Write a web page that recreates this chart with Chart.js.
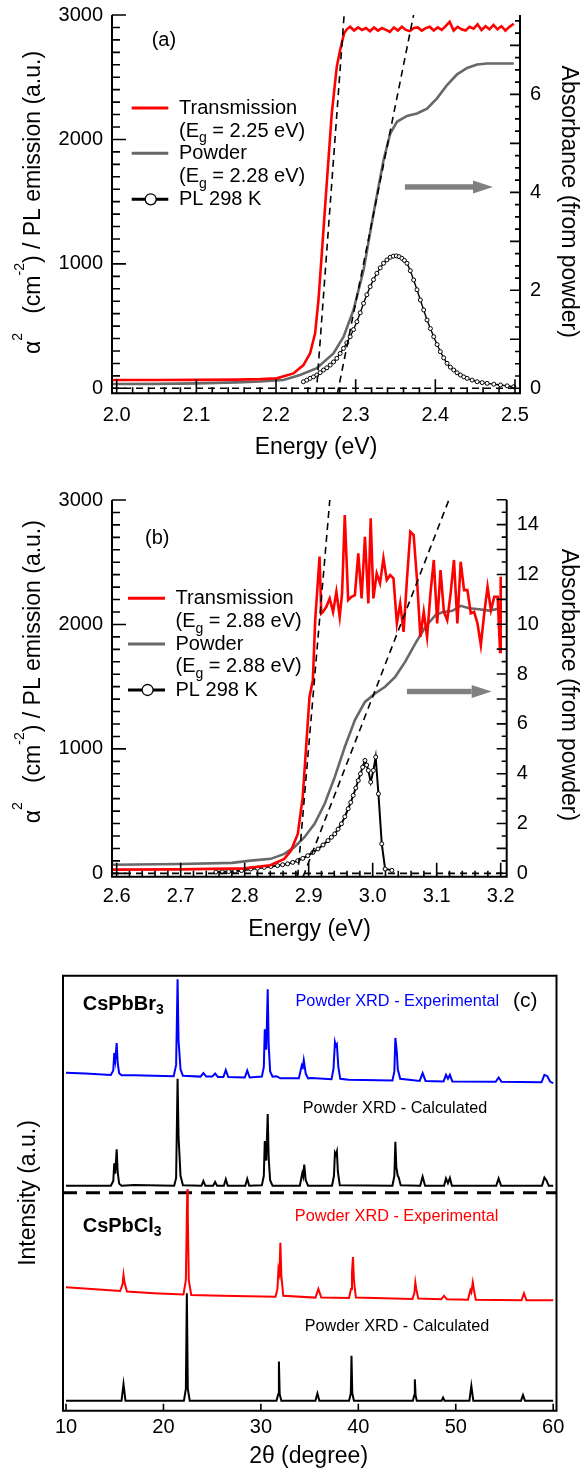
<!DOCTYPE html>
<html>
<head>
<meta charset="utf-8">
<script src="https://cdn.jsdelivr.net/npm/chart.js@4.4.1/dist/chart.umd.min.js"></script>
<style>
  body { margin: 0; background: #fff; width: 582px; height: 1474px; position: relative; overflow: hidden; }
  .panel { position: absolute; left: 0; width: 582px; }
</style>
</head>
<body>
<div class="panel" style="top:0;height:465px"><canvas id="chart-a" width="582" height="465"></canvas></div>
<div class="panel" style="top:465px;height:485px"><canvas id="chart-b" width="582" height="485"></canvas></div>
<div class="panel" style="top:950px;height:524px"><canvas id="chart-c" width="582" height="524"></canvas></div>
<script>
// ---------- (a) CsPbBr3 : energy (eV) vs alpha^2 / PL, absorbance on right ----------
const transA = [[1.9941,67],[2.05,67],[2.1,68],[2.15,70],[2.18,74],[2.2009,80],[2.2218,120],[2.2344,187],[2.2428,281],
  [2.2491,442],[2.2533,710],[2.2575,1085],[2.2616,1459],[2.2658,1835],[2.27,2210],[2.2763,2585],[2.2805,2719],
  [2.2855,2853],[2.2889,2885],[2.293,2905],[2.298,2875],[2.303,2900],[2.308,2880],[2.313,2895],[2.318,2870],
  [2.323,2900],[2.328,2875],[2.333,2895],[2.338,2880],[2.343,2865],[2.348,2900],[2.353,2875],[2.358,2905],
  [2.363,2880],[2.368,2870],[2.373,2895],[2.378,2900],[2.383,2875],[2.388,2895],[2.393,2905],[2.398,2875],
  [2.403,2900],[2.408,2880],[2.413,2910],[2.418,2945],[2.423,2875],[2.428,2905],[2.433,2885],[2.438,2875],
  [2.443,2905],[2.448,2890],[2.453,2925],[2.458,2880],[2.463,2910],[2.468,2885],[2.473,2920],[2.478,2885],
  [2.483,2910],[2.488,2875],[2.493,2905],[2.4985,2930]];
const powderA = [[1.9941,0.088],[2.05,0.09],[2.1,0.1],[2.15,0.12],[2.18,0.14],[2.2093,0.17],[2.2302,0.27],
  [2.2512,0.41],[2.2721,0.71],[2.2847,1.05],[2.2973,1.6],[2.3099,2.41],[2.3224,3.57],[2.335,4.66],[2.3434,5.2],
  [2.3518,5.44],[2.3644,5.56],[2.377,5.61],[2.3896,5.71],[2.4021,5.92],[2.4147,6.19],[2.4273,6.41],[2.4399,6.54],
  [2.4525,6.61],[2.465,6.63],[2.4985,6.63]];
const plA = [[2.2344,53],[2.2386,66],[2.2428,80],[2.247,92],[2.2512,107],[2.2554,126],[2.2596,147],[2.2638,165],
  [2.268,187],[2.2722,212],[2.2763,241],[2.2805,280],[2.2847,321],[2.2889,366],[2.2931,415],[2.2973,472],
  [2.3015,535],[2.3057,607],[2.3099,683],[2.314,752],[2.3182,817],[2.3224,873],[2.3266,924],[2.3308,968],
  [2.335,1005],[2.3392,1032],[2.3434,1053],[2.3472,1062],[2.351,1064],[2.3545,1058],[2.358,1045],[2.3612,1028],
  [2.3644,1005],[2.3686,945],[2.3728,871],[2.377,792],[2.3812,710],[2.3854,630],[2.3896,549],[2.3938,480],
  [2.398,415],[2.4022,352],[2.4063,295],[2.4105,245],[2.4147,201],[2.4189,170],[2.4231,147],[2.4273,125],
  [2.4315,107],[2.4357,92],[2.4399,80],[2.4462,66],[2.4525,53],[2.4588,46],[2.465,40],[2.4734,33],[2.4818,27],
  [2.4902,20],[2.4985,13]];
const tangentA1 = [[2.2505,-48],[2.2855,3000]];
const tangentA2 = [[2.2769,-48],[2.3727,3000]];
const zeroA = [[1.9941,0],[2.5063,0]];
const arrowA = [[2.3618,4.11],[2.4724,4.11]];
const energyTicksA = [2.0,2.1,2.2,2.3,2.4,2.5];
const absTicksA = [0,2,4,6];

// ---------- (b) CsPbCl3 ----------
const transB = [[2.5927,30],[2.7,32],[2.8,40],[2.84,65],[2.8619,116],[2.8724,183],[2.883,317],[2.8907,612],
  [2.896,1015],[2.9013,1417],[2.9065,1551],[2.9102,2035],[2.9145,2357],[2.917,2545],[2.9197,2088],
  [2.9223,2101],[2.9276,2142],[2.9328,2209],[2.9381,2101],[2.9433,2263],[2.9485,2061],[2.9522,2249],
  [2.9564,2880],[2.9617,2196],[2.9669,2222],[2.9722,2236],[2.9775,2572],[2.9827,2209],[2.9879,2705],
  [2.9932,2169],[2.9969,2853],[3.0011,2209],[3.0063,2410],[3.0115,2330],[3.0168,2531],[3.022,2357],
  [3.0273,2397],[3.0325,2370],[3.0378,2008],[3.043,2169],[3.0483,1940],[3.0535,2357],[3.0588,2745],
  [3.064,2719],[3.0693,2357],[3.0745,1900],[3.0798,2101],[3.085,1900],[3.0903,2249],[3.0955,2518],
  [3.1008,2008],[3.106,2437],[3.1113,2101],[3.1165,2035],[3.1218,2249],[3.127,2518],[3.1323,2008],
  [3.1375,2504],[3.1428,2276],[3.148,2276],[3.1533,2089],[3.1585,2101],[3.1638,2008],[3.169,1833],
  [3.1743,2089],[3.1795,2303],[3.1848,2115],[3.19,2222],[3.1953,2222],[3.199,1779],[3.2,2383]];
const powderB = [[2.5927,0.34],[2.7,0.37],[2.78,0.42],[2.8094,0.51],[2.8409,0.58],[2.8619,0.78],[2.8776,1.05],
  [2.8934,1.45],[2.9092,1.99],[2.925,2.79],[2.9407,3.86],[2.9564,5.07],[2.9722,6.15],[2.9879,6.88],[3.0037,7.22],
  [3.0194,7.49],[3.0352,7.89],[3.0509,8.5],[3.0667,9.23],[3.0824,9.9],[3.0982,10.37],[3.1087,10.48],
  [3.1244,10.54],[3.1375,10.74],[3.1507,10.64],[3.1664,10.6],[3.1822,10.55],[3.2,10.64]];
const plB = [[2.755,10],[2.765,12],[2.775,14],[2.785,17],[2.795,22],[2.8094,35],[2.8199,41],[2.8304,48],
  [2.8409,55],[2.8514,62],[2.8593,69],[2.8671,76],[2.875,88],[2.883,102],[2.8908,120],[2.8986,142],[2.9066,168],
  [2.9145,196],[2.9224,228],[2.9302,263],[2.9355,290],[2.9407,317],[2.946,355],[2.9512,398],[2.9565,455],
  [2.9617,519],[2.9657,570],[2.9696,626],[2.9736,686],[2.9775,746],[2.9809,800],[2.9843,853],[2.9879,907],
  [2.9906,870],[2.9932,827],[2.9969,733],[3.0011,827],[3.0047,934],[3.009,639],[3.0142,237],[3.0194,35],[3.03,24]];
const tangentB1 = [[2.8827,-27],[2.933,3000]];
const tangentB2 = [[2.8912,-27],[3.119,3000]];
const zeroB = [[2.5927,0],[3.2094,0]];
const arrowB = [[3.0535,7.3],[3.1859,7.3]];
const energyTicksB = [2.6,2.7,2.8,2.9,3.0,3.1,3.2];
const absTicksB = [0,2,4,6,8,10,12,14];
const alphaTicks = [0,1000,2000,3000];

// ---------- (c) powder XRD, stacked traces (arbitrary offsets) ----------
const brExp = [[10,77.7],[12,77.5],[14.6,77.2],[14.85,78.2],[14.95,82.2],[15.05,80.5],[15.2,84.5],[15.3,80],
  [15.45,77.6],[15.7,77.1],[17,77.1],[19,77],[21.05,76.9],[21.3,79.5],[21.45,99.2],[21.55,85],[21.62,82.9],
  [21.75,78.5],[22,77],[23.8,76.8],[24.1,77.6],[24.4,76.8],[25,76.8],[25.3,77.5],[25.6,76.7],[26.15,76.7],
  [26.4,78.3],[26.65,76.7],[28.35,76.6],[28.6,78.2],[28.85,76.6],[30.1,76.8],[30.3,79],[30.4,87.7],[30.55,83],
  [30.7,96.9],[30.8,84],[30.95,78],[31.2,76.8],[31.6,76.9],[32,76.4],[33.9,76.4],[34.2,79.4],[34.3,79],
  [34.4,80.6],[34.6,77.5],[34.85,76.4],[35.2,76.5],[37.25,76.2],[37.45,78.5],[37.6,84.7],[37.7,83.8],[37.8,84.2],
  [37.95,79],[38.15,76.3],[39,76.1],[43.5,75.9],[43.7,78],[43.8,85.7],[43.95,82.5],[44.05,78.5],[44.3,76.3],
  [46.3,75.8],[46.6,77.6],[46.9,75.8],[48.75,75.7],[49,77.2],[49.2,76.3],[49.4,77.2],[49.65,75.7],[54.1,75.6],
  [54.4,76.6],[54.7,75.6],[58.8,75.5],[59.1,77.2],[59.4,76.9],[59.7,75.6],[60,75.3]];
const brCalc = [[10,51.7],[14.6,51.7],[14.85,52.8],[14.95,56.9],[15.05,54.5],[15.2,60.1],[15.3,55],[15.45,52.2],
  [15.7,51.7],[17,51.9],[21.1,51.7],[21.3,53.5],[21.45,76.3],[21.55,63],[21.62,59.9],[21.75,54],[22,51.8],
  [23.9,51.7],[24.1,52.8],[24.3,51.7],[25.1,51.7],[25.3,52.6],[25.5,51.7],[26.2,51.7],[26.4,53.2],[26.6,51.7],
  [28.4,51.7],[28.6,53.3],[28.8,51.7],[30.1,51.8],[30.3,54],[30.4,62],[30.55,57.5],[30.7,68.2],[30.8,58],
  [30.95,53],[31.2,51.7],[34,51.7],[34.25,54.6],[34.35,53.8],[34.45,56.6],[34.6,53],[34.85,51.7],[37.3,51.7],
  [37.5,54],[37.6,59.3],[37.7,58.8],[37.8,59.6],[37.9,55],[38.1,51.8],[43.5,51.7],[43.7,54],[43.8,61.8],
  [43.9,56],[44.05,54],[44.15,53.6],[44.35,51.8],[46.35,51.7],[46.6,53.8],[46.85,51.7],[48.8,51.7],[49,53.4],
  [49.2,52.3],[49.4,53.5],[49.6,51.7],[54.15,51.7],[54.4,53.4],[54.65,51.7],[58.85,51.7],[59.1,53.6],[59.3,53],
  [59.55,51.7],[60,51.7]];
const clExp = [[10,28.4],[13,27.9],[15.55,27.5],[15.8,29],[15.9,31.2],[16,29.5],[16.25,27.4],[19,27],
  [22.05,26.7],[22.3,30],[22.4,45],[22.45,50.9],[22.5,45],[22.6,30],[22.85,26.6],[26,26.4],[31.5,26.2],
  [31.7,28],[31.8,32.5],[31.9,31.5],[32,38.6],[32.1,31],[32.3,26.4],[35.6,26],[35.9,28],[36.2,26],[39.05,25.9],
  [39.25,28],[39.35,31.7],[39.45,35.3],[39.55,30],[39.75,26],[45.55,25.7],[45.75,27],[45.85,29.5],[45.95,28],
  [46.15,25.8],[48.5,25.6],[48.8,26.4],[49.1,25.6],[51.25,25.5],[51.5,27.7],[51.6,27.2],[51.75,29.5],
  [51.85,28],[52.05,25.5],[56.75,25.4],[57,27],[57.25,25.4],[60,25.4]];
const clCalc = [[10,2.3],[15.7,2.3],[15.9,6.1],[16.1,2.3],[22.1,2.3],[22.3,5],[22.4,27],[22.5,5],[22.7,2.3],
  [31.6,2.3],[31.78,3.8],[31.85,11.3],[31.93,3.8],[32.1,2.3],[35.6,2.3],[35.8,4],[36,2.3],[39.05,2.3],
  [39.23,4],[39.3,12.6],[39.38,4],[39.55,2.3],[45.6,2.3],[45.73,3.5],[45.8,7.2],[45.88,3.5],[46,2.3],
  [48.55,2.3],[48.7,3],[48.85,2.3],[51.4,2.3],[51.6,5.7],[51.8,2.3],[56.7,2.3],[56.9,3.6],[57.1,2.3],[60,2.3]];
const separatorC = [[9.69,50.1],[60.34,50.1]];
const angleTicks = [10,20,30,40,50,60];

const FONT = "'Liberation Sans', Arial, Helvetica, sans-serif";
const RED = '#ff0000';
const GRAY = '#686868';

function toXY(points) {
  return points.map(p => ({ x: p[0], y: p[1] }));
}

function trace(points, color, width, axis, extra) {
  return Object.assign({
    data: toXY(points),
    showLine: true,
    borderColor: color,
    borderWidth: width,
    pointRadius: 0,
    tension: 0,
    fill: false,
    yAxisID: axis
  }, extra || {});
}

// draw text made of pieces: [text, size, dy, bold]
function richText(ctx, parts, x, y, align) {
  let total = 0;
  const widths = parts.map(p => {
    ctx.font = (p[3] ? 'bold ' : '') + p[1] + 'px ' + FONT;
    const w = ctx.measureText(p[0]).width;
    total += w;
    return w;
  });
  let cx = align === 'center' ? x - total / 2 : x;
  ctx.textAlign = 'left';
  ctx.textBaseline = 'middle';
  parts.forEach((p, i) => {
    ctx.font = (p[3] ? 'bold ' : '') + p[1] + 'px ' + FONT;
    ctx.fillText(p[0], cx, y + p[2]);
    cx += widths[i];
  });
}

function drawFrame(chart, cfg) {
  const ctx = chart.ctx;
  const a = chart.chartArea;
  ctx.save();
  ctx.strokeStyle = '#000';
  ctx.lineWidth = 2;
  ctx.beginPath();
  if (cfg.box) {
    ctx.rect(a.left, a.top, a.right - a.left, a.bottom - a.top);
  } else {
    ctx.moveTo(a.left, a.top);
    ctx.lineTo(a.left, a.bottom);
    ctx.lineTo(a.right, a.bottom);
    ctx.lineTo(a.right, a.top);
  }
  ctx.stroke();

  ctx.lineWidth = 1.6;
  ctx.fillStyle = '#000';
  cfg.axes.forEach(ax => {
    const scale = chart.scales[ax.id];
    const marks = [];
    if (ax.minorStep) {
      for (let i = 0; ; i++) {
        const v = ax.from + i * ax.minorStep;
        if (v > ax.to + 1e-9) break;
        const isMid = ax.midEvery && Math.abs(v / ax.midEvery - Math.round(v / ax.midEvery)) < 1e-6;
        marks.push([v, isMid ? ax.midLen : ax.minorLen]);
      }
    }
    ax.values.forEach(v => marks.push([v, ax.majorLen]));
    ctx.beginPath();
    marks.forEach(([v, len]) => {
      const p = scale.getPixelForValue(v);
      if (ax.side === 'bottom') { ctx.moveTo(p, a.bottom); ctx.lineTo(p, a.bottom - len); }
      else if (ax.side === 'left') { ctx.moveTo(a.left, p); ctx.lineTo(a.left + len, p); }
      else { ctx.moveTo(a.right, p); ctx.lineTo(a.right - len, p); }
    });
    ctx.stroke();

    if (!ax.labels) return;
    ctx.font = '20px ' + FONT;
    ctx.textBaseline = 'middle';
    ax.values.forEach((v, i) => {
      const p = scale.getPixelForValue(v);
      if (ax.side === 'bottom') { ctx.textAlign = 'center'; ctx.fillText(ax.labels[i], p, cfg.tickLabelY); }
      else if (ax.side === 'left') { ctx.textAlign = 'right'; ctx.fillText(ax.labels[i], a.left - 9, p); }
      else { ctx.textAlign = 'left'; ctx.fillText(ax.labels[i], a.right + 10, p); }
    });
  });
  ctx.restore();
}

function drawArrow(chart, arrow) {
  const ctx = chart.ctx;
  const x0 = chart.scales.x.getPixelForValue(arrow[0][0]);
  const x1 = chart.scales.x.getPixelForValue(arrow[1][0]);
  const y = chart.scales.y2.getPixelForValue(arrow[0][1]);
  const head = 20;
  ctx.save();
  ctx.fillStyle = '#808080';
  ctx.fillRect(x0, y - 2.7, x1 - head - x0, 5.4);
  ctx.beginPath();
  ctx.moveTo(x1 - head, y - 6.5);
  ctx.lineTo(x1, y);
  ctx.lineTo(x1 - head, y + 6.5);
  ctx.closePath();
  ctx.fill();
  ctx.restore();
}

function drawOpticalTexts(chart, cfg) {
  const ctx = chart.ctx;
  ctx.save();
  ctx.fillStyle = '#000';
  // panel letter
  richText(ctx, [[cfg.letter, 20, 0]], cfg.letterX, cfg.letterY, 'left');
  // legend
  const lg = cfg.legend;
  ctx.lineWidth = 3;
  [[lg.rows[0], RED], [lg.rows[2], GRAY], [lg.rows[4], '#000']].forEach(([ry, c]) => {
    ctx.strokeStyle = c;
    ctx.beginPath();
    ctx.moveTo(lg.x0, ry);
    ctx.lineTo(lg.x1, ry);
    ctx.stroke();
  });
  ctx.lineWidth = 1.3;
  ctx.strokeStyle = '#000';
  ctx.fillStyle = '#fff';
  ctx.beginPath();
  ctx.arc(lg.circleX, lg.rows[4], 5.5, 0, Math.PI * 2);
  ctx.fill();
  ctx.stroke();
  ctx.fillStyle = '#000';
  richText(ctx, [['Transmission', 20, 0]], lg.textX, lg.rows[0], 'left');
  richText(ctx, [['(E', 20, 0], ['g', 14, 7], [' = ' + cfg.egTrans + ' eV)', 20, 0]], lg.textX, lg.rows[1], 'left');
  richText(ctx, [['Powder', 20, 0]], lg.textX, lg.rows[2], 'left');
  richText(ctx, [['(E', 20, 0], ['g', 14, 7], [' = ' + cfg.egPowder + ' eV)', 20, 0]], lg.textX, lg.rows[3], 'left');
  richText(ctx, [['PL 298 K', 20, 0]], lg.textX, lg.rows[4], 'left');

  // axis titles
  richText(ctx, [['Energy (eV)', 23, 0]], cfg.xTitle[0], cfg.xTitle[1], 'center');
  ctx.save();
  ctx.translate(cfg.yTitle[0], cfg.yTitle[1]);
  ctx.rotate(-Math.PI / 2);
  richText(ctx, [['\u03b1', 23, 0], ['2', 14, -15], ['   (cm', 23, 0], ['-2', 14, -13], [') / PL emission (a.u.)', 23, 0]], 0, 0, 'center');
  ctx.restore();
  ctx.save();
  ctx.translate(cfg.y2Title[0], cfg.y2Title[1]);
  ctx.rotate(Math.PI / 2);
  richText(ctx, [['Absorbance (from powder)', 23, 0]], 0, 0, 'center');
  ctx.restore();
  ctx.restore();
}

function opticalChart(canvasId, cfg) {
  const decor = {
    id: 'decor',
    afterDatasetsDraw(chart) {
      drawFrame(chart, cfg);
      drawArrow(chart, cfg.arrow);
    },
    afterDraw(chart) { drawOpticalTexts(chart, cfg); }
  };
  const dash = { borderDash: [7, 5], order: 0 };
  return new Chart(document.getElementById(canvasId), {
    type: 'scatter',
    data: {
      datasets: [
        trace(cfg.tangent1, '#000', 1.6, 'y', dash),
        trace(cfg.tangent2, '#000', 1.6, 'y', dash),
        trace(cfg.zero, '#000', 1.6, 'y', dash),
        trace(cfg.trans, RED, 2.6, 'y', { order: 1 }),
        trace(cfg.pl, '#000', cfg.plWidth, 'y', {
          order: 2, pointRadius: 2, pointBorderWidth: 1,
          pointBackgroundColor: '#fff', pointBorderColor: '#000'
        }),
        trace(cfg.powder, GRAY, 2.6, 'y2', { order: 3 })
      ]
    },
    options: {
      responsive: false,
      animation: false,
      devicePixelRatio: 1,
      layout: { padding: cfg.padding },
      plugins: { legend: { display: false }, tooltip: { enabled: false } },
      scales: {
        x: { type: 'linear', min: cfg.xRange[0], max: cfg.xRange[1], display: false },
        y: { type: 'linear', min: cfg.yRange[0], max: cfg.yRange[1], display: false },
        y2: { type: 'linear', position: 'right', min: cfg.y2Range[0], max: cfg.y2Range[1], display: false }
      }
    },
    plugins: [decor]
  });
}

opticalChart('chart-a', {
  trans: transA, powder: powderA, pl: plA, plWidth: 1.4,
  tangent1: tangentA1, tangent2: tangentA2, zero: zeroA, arrow: arrowA,
  xRange: [1.9941, 2.5063], yRange: [-40, 3000], y2Range: [-0.102, 7.62],
  padding: { left: 112, right: 62, top: 15, bottom: 71.7 },
  tickLabelY: 415,
  axes: [
    { id: 'x', side: 'bottom', from: 2.0, to: 2.5, minorStep: 0.02, minorLen: 6, majorLen: 14,
      values: energyTicksA, labels: energyTicksA.map(v => v.toFixed(1)) },
    { id: 'y', side: 'left', from: 0, to: 3000, minorStep: 100, minorLen: 8, majorLen: 14,
      values: alphaTicks, labels: alphaTicks.map(String) },
    { id: 'y2', side: 'right', from: 0, to: 7.5, minorStep: 0.25, minorLen: 5, midEvery: 1, midLen: 10, majorLen: 10,
      values: absTicksA, labels: absTicksA.map(String) }
  ],
  letter: '(a)', letterX: 151.7, letterY: 40,
  legend: { x0: 131.7, x1: 168.3, textX: 179, circleX: 150.7, rows: [108, 131, 153.3, 176.7, 199.3] },
  egTrans: '2.25', egPowder: '2.28',
  xTitle: [316, 448], yTitle: [33.5, 202.5], y2Title: [568, 201.7]
});

opticalChart('chart-b', {
  trans: transB, powder: powderB, pl: plB, plWidth: 2,
  tangent1: tangentB1, tangent2: tangentB2, zero: zeroB, arrow: arrowB,
  xRange: [2.5927, 3.2094], yRange: [-27, 3000], y2Range: [-0.137, 14.99],
  padding: { left: 112, right: 75.3, top: 35, bottom: 73.3 },
  tickLabelY: 431.7,
  axes: [
    { id: 'x', side: 'bottom', from: 2.6, to: 3.2, minorStep: 0.02, minorLen: 6, majorLen: 14,
      values: energyTicksB, labels: energyTicksB.map(v => v.toFixed(1)) },
    { id: 'y', side: 'left', from: 0, to: 3000, minorStep: 100, minorLen: 8, majorLen: 14,
      values: alphaTicks, labels: alphaTicks.map(String) },
    { id: 'y2', side: 'right', from: 0, to: 15, minorStep: 0.5, minorLen: 5, midEvery: 1, midLen: 10, majorLen: 10,
      values: absTicksB, labels: absTicksB.map(String) }
  ],
  letter: '(b)', letterX: 145, letterY: 73,
  legend: { x0: 128, x1: 165, textX: 175.5, circleX: 147.6, rows: [133.3, 156.7, 179, 201.7, 225] },
  egTrans: '2.88', egPowder: '2.88',
  xTitle: [309.5, 465], yTitle: [33.5, 206.7], y2Title: [568, 220]
});

// ---------- (c) ----------
const decorC = {
  id: 'decorC',
  afterDatasetsDraw(chart) {
    drawFrame(chart, {
      box: true, tickLabelY: 477.3,
      axes: [{ id: 'x', side: 'bottom', values: angleTicks, majorLen: 7, labels: angleTicks.map(String) }]
    });
  },
  afterDraw(chart) {
    const ctx = chart.ctx;
    ctx.save();
    ctx.fillStyle = '#000';
    richText(ctx, [['CsPbBr', 20, 0, true], ['3', 14, 6, true]], 82.7, 54.5, 'left');
    richText(ctx, [['CsPbCl', 20, 0, true], ['3', 14, 6, true]], 82.7, 276, 'left');
    ctx.fillStyle = '#0000ff';
    richText(ctx, [['Powder XRD - Experimental', 16.3, 0]], 295.5, 51.7, 'left');
    ctx.fillStyle = RED;
    richText(ctx, [['Powder XRD - Experimental', 16.3, 0]], 294.8, 266.7, 'left');
    ctx.fillStyle = '#000';
    richText(ctx, [['Powder XRD - Calculated', 16.2, 0]], 302.7, 158.3, 'left');
    richText(ctx, [['Powder XRD - Calculated', 16.2, 0]], 304.8, 376.7, 'left');
    richText(ctx, [['(c)', 21, 0]], 513, 51.7, 'left');
    richText(ctx, [['2\u03b8 (degree)', 23, 0]], 308.6, 506.7, 'center');
    ctx.translate(29, 243);
    ctx.rotate(-Math.PI / 2);
    richText(ctx, [['Intensity (a.u.)', 23, 0]], 0, 0, 'center');
    ctx.restore();
  }
};

new Chart(document.getElementById('chart-c'), {
  type: 'scatter',
  data: {
    datasets: [
      trace(brExp, '#0000ff', 2, 'y'),
      trace(brCalc, '#000', 2, 'y'),
      trace(clExp, RED, 2, 'y'),
      trace(clCalc, '#000', 2, 'y'),
      trace(separatorC, '#000', 3, 'y', { borderDash: [14, 9] })
    ]
  },
  options: {
    responsive: false,
    animation: false,
    devicePixelRatio: 1,
    layout: { padding: { left: 63, right: 25.5, top: 25.7, bottom: 63.3 } },
    plugins: { legend: { display: false }, tooltip: { enabled: false } },
    scales: {
      x: { type: 'linear', min: 9.69, max: 60.34, display: false },
      y: { type: 'linear', min: 0, max: 100, display: false }
    }
  },
  plugins: [decorC]
});
</script>
</body>
</html>
